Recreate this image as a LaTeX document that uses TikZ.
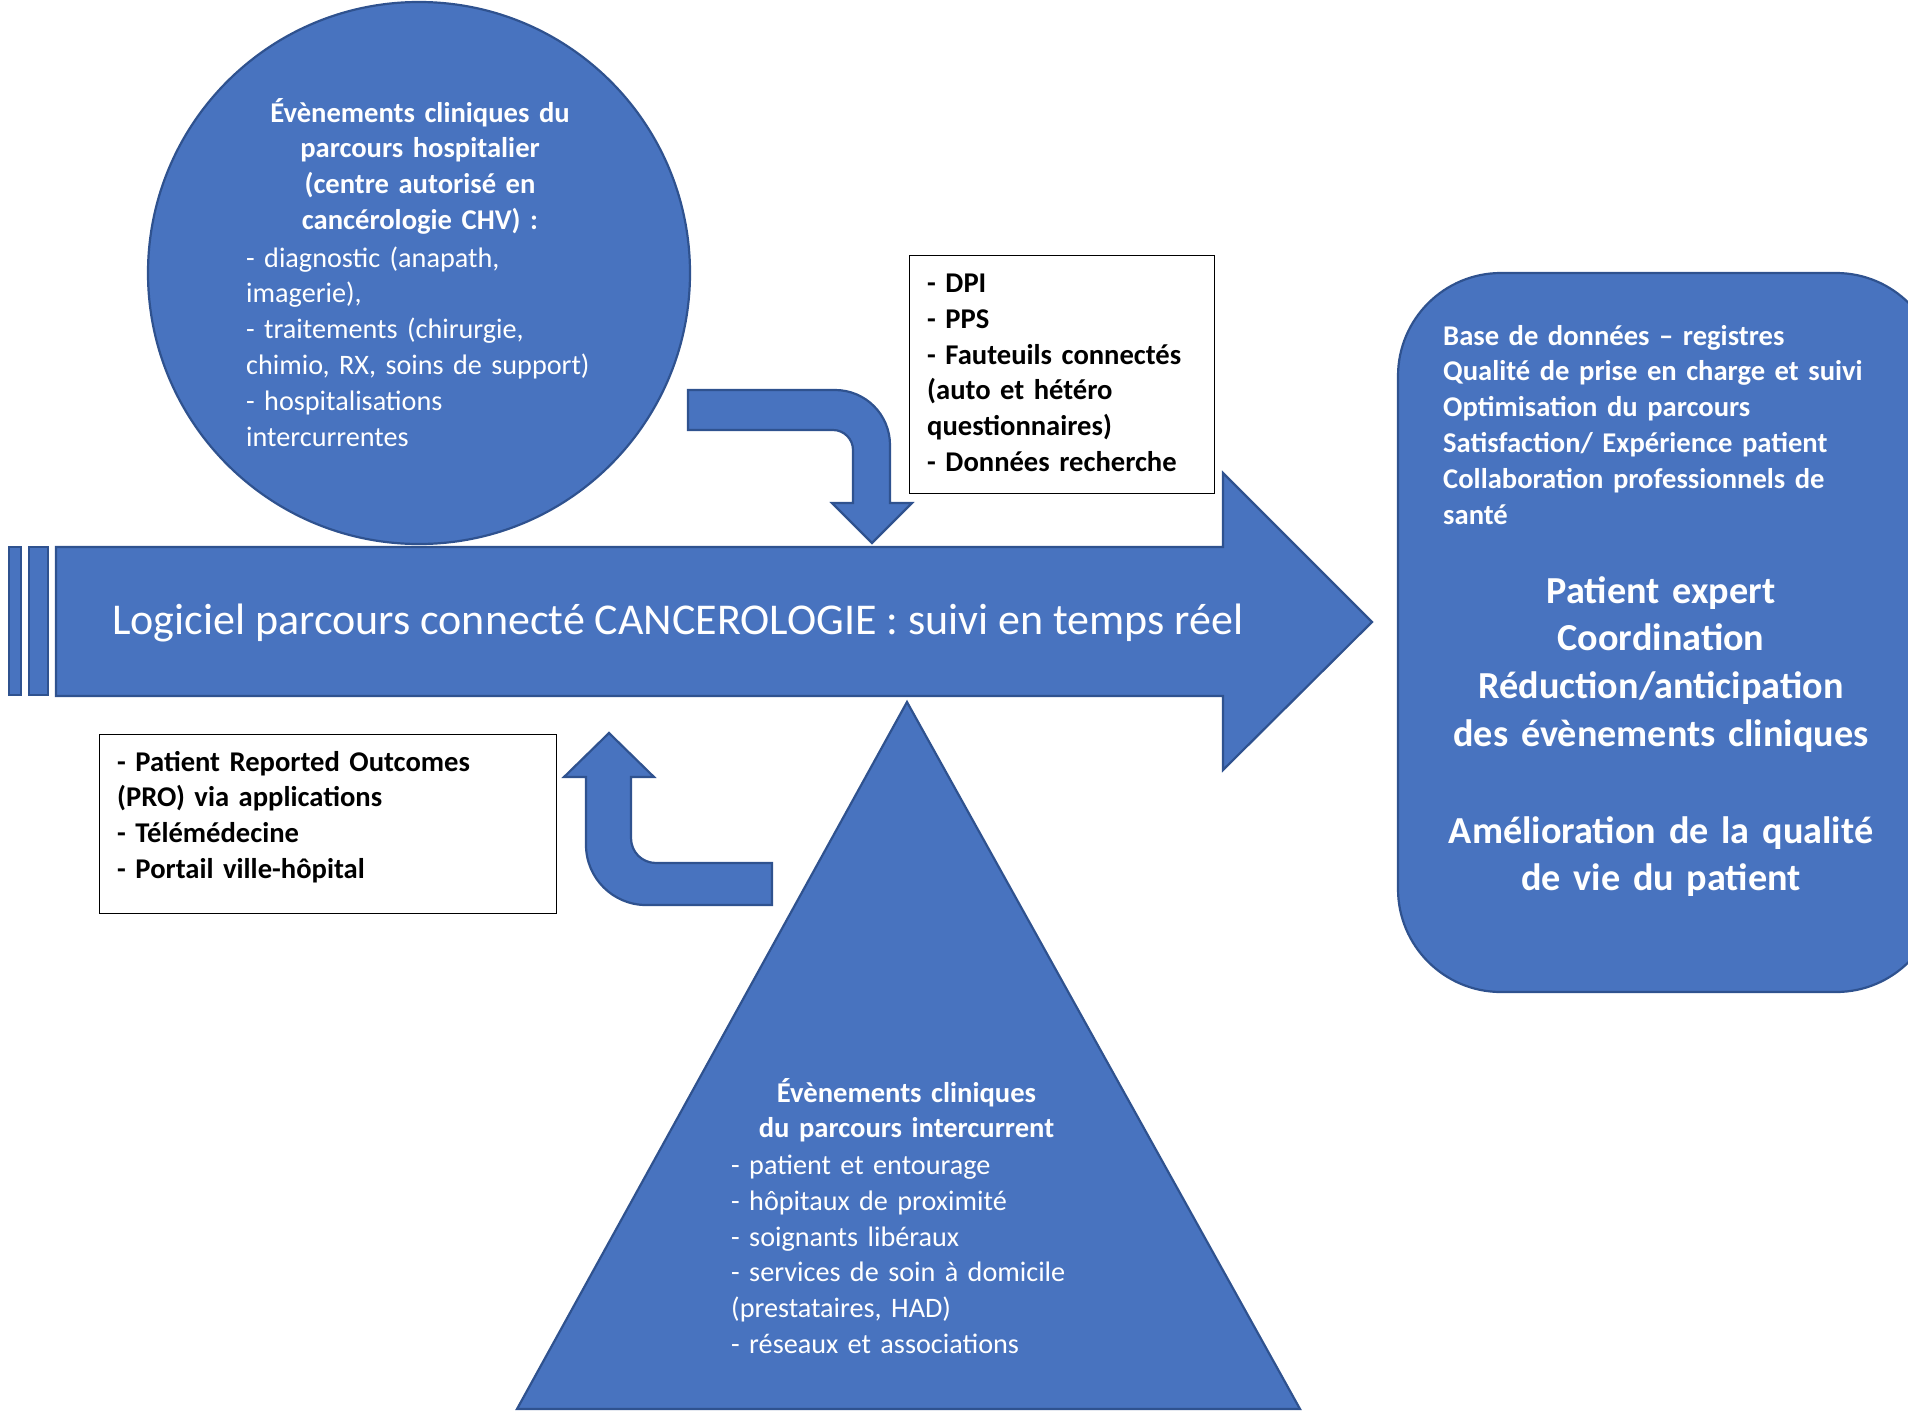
\documentclass[tikz,border=0pt]{standalone}
\usepackage{fontspec}
\setmainfont{Carlito}
\definecolor{fillblue}{HTML}{4873BF}
\definecolor{edgeblue}{HTML}{2F528F}
\tikzset{
  blueshape/.style={fill=fillblue,draw=edgeblue,line width=2.2pt,line join=miter},
  textbox/.style={draw=black,line width=1.3pt,fill=white,inner sep=0pt,anchor=north west},
  smallbold/.style={font=\fontsize{28.6pt}{35.8pt}\selectfont\bfseries,inner sep=0pt,text width=620pt},
  smallreg/.style={font=\fontsize{28.2pt}{35.8pt}\selectfont,inner sep=0pt,text width=620pt},
  bigbold/.style={font=\fontsize{38.2pt}{47.8pt}\selectfont\bfseries,inner sep=0pt,text width=620pt,text=white,align=center,anchor=base},
}
\begin{document}
\begin{tikzpicture}[x=1pt,y=-1pt]
\useasboundingbox (0,0) rectangle (1908,1411);
\clip (0,0) rectangle (1908,1411);
% circle
\draw[blueshape] (419,273) circle[radius=271pt];
\node[smallbold,text=white,align=center,anchor=base] (circtitle) at (420,122)
  {Évènements cliniques du\\parcours hospitalier\\(centre autorisé en\\cancérologie CHV) :};
\node[smallreg,text=white,align=left,anchor=base west] (circlist) at (246,267)
  {- diagnostic (anapath,\\imagerie),\\- traitements (chirurgie,\\chimio, RX, soins de support)\\- hospitalisations\\intercurrentes};
% curved down arrow
\draw[blueshape] (688,390) -- (835,390) .. controls (865.4,390) and (890,414.6) .. (890,445)
  -- (890,503) -- (912,503) -- (872,543) -- (832,503) -- (853,503) -- (853,450)
  .. controls (853,439) and (844,430) .. (833,430) -- (688,430) -- cycle;
% box 1
\node[textbox,minimum width=305pt,minimum height=238pt] (box1) at (909,255) {};
\node[smallbold,align=left,anchor=base west] (box1text) at (927,292.5)
  {- DPI\\- PPS\\- Fauteuils connectés\\(auto et hétéro\\questionnaires)\\- Données recherche};
% main arrow
\draw[blueshape] (9,547) rectangle (21,695);
\draw[blueshape] (29,547) rectangle (48,695);
\draw[blueshape] (56,547) -- (1223,547) -- (1223,473) -- (1372,622) -- (1223,770) -- (1223,696) -- (56,696) -- cycle;
\node[font=\fontsize{44pt}{52pt}\selectfont,text=white,inner sep=0pt,anchor=base] (maintext) at (678,634)
  {Logiciel parcours connecté CANCEROLOGIE : suivi en temps réel};
% triangle
\draw[blueshape] (907,702) -- (1300,1409) -- (517,1409) -- cycle;
\node[smallbold,text=white,align=center,anchor=base] (tritle) at (906.5,1102)
  {Évènements cliniques\\du parcours intercurrent};
\node[smallreg,text=white,align=left,anchor=base west] (trilist) at (731,1174.5)
  {- patient et entourage\\- hôpitaux de proximité\\- soignants libéraux\\- services de soin à domicile\\(prestataires, HAD)\\- réseaux et associations};
% curved up arrow
\draw[blueshape] (609,733) -- (654,777) -- (631,777) -- (631,838)
  .. controls (631,852) and (642,863) .. (656,863) -- (772,863) -- (772,905) -- (646,905)
  .. controls (613,905) and (586,878) .. (586,845) -- (586,777) -- (564,777) -- cycle;
% box 2
\node[textbox,minimum width=457pt,minimum height=179pt] (box2) at (99,734) {};
\node[smallbold,align=left,anchor=base west] (box2text) at (117,771)
  {- Patient Reported Outcomes\\(PRO) via applications\\- Télémédecine\\- Portail ville-hôpital};
% right rounded box
\draw[blueshape,rounded corners=103pt] (1398,273) rectangle (1939,992);
\node[smallbold,text=white,align=left,anchor=base west] (rtext) at (1443,345)
  {Base de données – registres\\Qualité de prise en charge et suivi\\Optimisation du parcours\\Satisfaction/ Expérience patient\\Collaboration professionnels de\\santé};
\node[bigbold] (rbig) at (1661,603)
  {Patient expert\\Coordination\\Réduction/anticipation\\des évènements cliniques};
\node[bigbold] (rbig2) at (1661,843)
  {Amélioration de la qualité\\de vie du patient};
\end{tikzpicture}
\end{document}
